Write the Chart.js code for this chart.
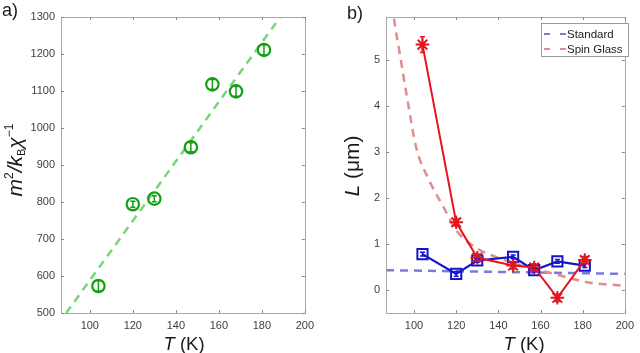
<!DOCTYPE html>
<html><head><meta charset="utf-8">
<script src="https://cdn.jsdelivr.net/npm/chart.js@4.4.1/dist/chart.umd.min.js"></script>
<style>html,body{margin:0;padding:0;background:#fff;width:640px;height:353px;overflow:hidden}
.p{position:absolute;top:0;width:320px;height:353px}</style></head>
<body>
<div class="p" style="left:0"><canvas id="ca" width="320" height="353"></canvas></div>
<div class="p" style="left:320px"><canvas id="cb" width="320" height="353"></canvas></div>
<script>
// ---- data ----
const temperatures = [104, 120, 130, 147, 157, 168, 181];
const invSusceptibility = [573, 794, 809, 948, 1118, 1099, 1211];
const invSusceptibilityErr = [14, 8, 8, 12, 13, 13, 13];
const linearFitT = [89, 200];
const linearFitValues = [500, 1392];

const lengthStandard = [0.78, 0.35, 0.64, 0.72, 0.43, 0.62, 0.53];
const lengthStandardErr = [0.04, 0.05, 0.04, 0.04, 0.04, 0.04, 0.04];
const lengthSpinGlass = [5.33, 1.47, 0.70, 0.53, 0.49, -0.17, 0.65];
const lengthSpinGlassErr = [0.17, 0.08, 0.08, 0.08, 0.08, 0.08, 0.08];
const standardFitT = [86.7, 200];
const standardFitValues = [0.43, 0.35];
const spinGlassFitT = [89.8, 90.4, 93, 97, 101, 107, 114, 120, 130, 142, 153, 164, 182, 200];
const spinGlassFitValues = [6.2, 5.93, 5.2, 4.1, 3.1, 2.4, 1.8, 1.3, 0.9, 0.67, 0.5, 0.38, 0.17, 0.09];

const xTicks = [100, 120, 140, 160, 180, 200];
const yTicksA = [500, 600, 700, 800, 900, 1000, 1100, 1200, 1300];
const yTicksB = [0, 1, 2, 3, 4, 5];

const seriesLabels = ['Standard', 'Spin Glass'];

// ---- helpers ----
const FONT = '"Liberation Sans", Arial, Helvetica, sans-serif';
const pts = (xs, ys) => xs.map((x, i) => ({x, y: ys[i]}));

function drawRich(ctx, pieces, cx, cy, rot) {
  ctx.save();
  ctx.translate(cx, cy);
  if (rot) ctx.rotate(rot);
  let total = 0;
  pieces.forEach(p => { ctx.font = (p.it ? 'italic ' : '') + p.size + 'px ' + FONT; p.w = ctx.measureText(p.t).width; total += p.w; });
  let x = -total / 2;
  ctx.textBaseline = 'alphabetic';
  ctx.textAlign = 'left';
  ctx.fillStyle = '#1a1a1a';
  pieces.forEach(p => { ctx.font = (p.it ? 'italic ' : '') + p.size + 'px ' + FONT; ctx.fillText(p.t, x, p.dy || 0); x += p.w; });
  ctx.restore();
}

const decor = {
  id: 'decor',
  afterDatasetsDraw(chart) {
    const o = chart.options.plugins.decor;
    const ctx = chart.ctx;
    const a = chart.chartArea;
    const xs = chart.scales.x, ys = chart.scales.y;
    (o.errors || []).forEach(e => {
      ctx.save();
      ctx.strokeStyle = e.color; ctx.lineWidth = 1.5;
      chart.data.datasets[e.ds].data.forEach((d, i) => {
        const px = xs.getPixelForValue(d.x);
        const y1 = ys.getPixelForValue(d.y - e.err[i]);
        const y2 = ys.getPixelForValue(d.y + e.err[i]);
        ctx.beginPath();
        ctx.moveTo(px, y1); ctx.lineTo(px, y2);
        ctx.moveTo(px - 2.5, y1); ctx.lineTo(px + 2.5, y1);
        ctx.moveTo(px - 2.5, y2); ctx.lineTo(px + 2.5, y2);
        ctx.stroke();
      });
      ctx.restore();
    });
    ctx.save();
    ctx.strokeStyle = '#a8a8a8'; ctx.lineWidth = 1;
    ctx.strokeRect(Math.round(a.left) + 0.5, Math.round(a.top) + 0.5, Math.round(a.right - a.left), Math.round(a.bottom - a.top));
    ctx.strokeStyle = '#8a8a8a';
    ctx.beginPath();
    o.xt.forEach(v => {
      const px = Math.round(xs.getPixelForValue(v)) + 0.5;
      ctx.moveTo(px, a.bottom); ctx.lineTo(px, a.bottom - 3);
      ctx.moveTo(px, a.top); ctx.lineTo(px, a.top + 3);
    });
    o.yt.forEach(v => {
      const py = Math.round(ys.getPixelForValue(v)) + 0.5;
      ctx.moveTo(a.left, py); ctx.lineTo(a.left + 3, py);
      ctx.moveTo(a.right, py); ctx.lineTo(a.right - 3, py);
    });
    ctx.stroke();
    ctx.restore();
  },
  afterDraw(chart) {
    const o = chart.options.plugins.decor;
    const ctx = chart.ctx;
    ctx.save();
    ctx.font = '18px ' + FONT; ctx.fillStyle = '#1a1a1a'; ctx.textBaseline = 'alphabetic';
    ctx.fillText(o.panel[0], o.panel[1], o.panel[2]);
    ctx.restore();
    drawRich(ctx, o.xTitle, o.xTitlePos[0], o.xTitlePos[1], 0);
    drawRich(ctx, o.yTitle, o.yTitlePos[0], o.yTitlePos[1], -Math.PI / 2);
    if (o.legend) {
      const L = o.legend;
      ctx.save();
      ctx.fillStyle = '#fff'; ctx.fillRect(L.x, L.y, L.w, L.h);
      ctx.strokeStyle = '#9a9a9a'; ctx.lineWidth = 1;
      ctx.strokeRect(L.x + 0.5, L.y + 0.5, L.w, L.h);
      L.items.forEach((it, i) => {
        const ds = chart.data.datasets[it];
        const yy = L.y + 11 + i * 15;
        ctx.strokeStyle = ds.borderColor; ctx.lineWidth = 2;
        ctx.setLineDash([6, 10]);
        ctx.beginPath(); ctx.moveTo(L.x + 3, yy); ctx.lineTo(L.x + 26, yy); ctx.stroke();
        ctx.setLineDash([]);
        ctx.fillStyle = '#1a1a1a'; ctx.font = '11.5px ' + FONT; ctx.textBaseline = 'middle';
        ctx.fillText(seriesLabels[i], L.x + 26, yy + 0.5);
      });
      ctx.restore();
    }
  }
};

function axisCfg(min, max, ticks, fixed, isY) {
  return {
    type: 'linear', min, max,
    grid: {display: false, drawTicks: false},
    border: {display: false},
    afterBuildTicks: s => { s.ticks = ticks.map(v => ({value: v})); },
    afterFit: s => { if (isY) s.width = fixed; else s.height = fixed; },
    ticks: {
      color: '#404040', padding: isY ? 6 : 6,
      font: {family: FONT, size: 11},
      autoSkip: false, maxRotation: 0,
      callback: v => String(v)
    }
  };
}

const green = '#12a012';
new Chart(document.getElementById('ca'), {
  type: 'scatter',
  data: {
    datasets: [
      {label: 'fit', data: pts(linearFitT, linearFitValues), showLine: true, borderColor: '#74d874', borderWidth: 2.5, borderDash: [8, 6], pointRadius: 0, order: 2},
      {label: 'data', data: pts(temperatures, invSusceptibility), showLine: false, pointStyle: 'circle', pointRadius: 6.2, borderColor: green, backgroundColor: 'rgba(0,0,0,0)', borderWidth: 2.2, order: 1}
    ]
  },
  options: {
    responsive: false, animation: false, events: [],
    layout: {padding: {left: 0, right: 13, top: 17, bottom: 0}},
    scales: {
      x: axisCfg(86.6, 200, xTicks, 40, false),
      y: axisCfg(500, 1300, yTicksA, 61, true)
    },
    plugins: {
      legend: {display: false}, tooltip: {enabled: false},
      decor: {
        xt: xTicks, yt: yTicksA,
        errors: [{ds: 1, err: invSusceptibilityErr, color: green}],
        panel: ['a)', 2, 16],
        xTitle: [{t: 'T', it: true, size: 18.5}, {t: ' (K)', size: 18.5}],
        xTitlePos: [184, 350],
        yTitle: [{t: 'm', it: true, size: 21}, {t: '2', size: 12, dy: -9}, {t: '/', it: true, size: 21}, {t: 'k', it: true, size: 21}, {t: 'B', size: 11, dy: 3}, {t: 'χ', it: true, size: 21}, {t: '−1', size: 12, dy: -9}],
        yTitlePos: [22, 160]
      }
    }
  },
  plugins: [decor]
});

const red = '#e6141e', blue = '#1414c8';
new Chart(document.getElementById('cb'), {
  type: 'scatter',
  data: {
    datasets: [
      {label: seriesLabels[0], data: pts(standardFitT, standardFitValues), showLine: true, borderColor: '#7a7ade', borderWidth: 2.5, borderDash: [8, 6], pointRadius: 0, order: 4},
      {label: seriesLabels[1], data: pts(spinGlassFitT, spinGlassFitValues), showLine: true, borderColor: '#e08c8c', borderWidth: 2.5, borderDash: [8, 6], pointRadius: 0, cubicInterpolationMode: 'monotone', order: 3},
      {label: 'Standard data', data: pts(temperatures, lengthStandard), showLine: true, borderColor: blue, borderWidth: 2.2, pointStyle: 'rect', pointRadius: 7.2, pointBorderWidth: 2, pointBorderColor: blue, pointBackgroundColor: 'rgba(0,0,0,0)', order: 2},
      {label: 'Spin glass data', data: pts(temperatures, lengthSpinGlass), showLine: true, borderColor: red, borderWidth: 2, pointStyle: 'star', pointRadius: 6.8, pointBorderWidth: 2, pointBorderColor: red, pointBackgroundColor: red, order: 1}
    ]
  },
  options: {
    responsive: false, animation: false, events: [],
    layout: {padding: {left: 0, right: 7, top: 17, bottom: 0}},
    scales: {
      x: axisCfg(86.7, 200, xTicks, 40, false),
      y: axisCfg(-0.5, 5.93, yTicksB, 66, true)
    },
    plugins: {
      legend: {display: false}, tooltip: {enabled: false},
      decor: {
        xt: xTicks, yt: yTicksB,
        errors: [{ds: 2, err: lengthStandardErr, color: blue}, {ds: 3, err: lengthSpinGlassErr, color: red}],
        panel: ['b)', 27, 19],
        xTitle: [{t: 'T', it: true, size: 18.5}, {t: ' (K)', size: 18.5}],
        xTitlePos: [204, 350],
        yTitle: [{t: 'L', it: true, size: 21}, {t: ' (μm)', size: 21}],
        yTitlePos: [39, 166],
        legend: {x: 221, y: 23, w: 87, h: 33, items: [0, 1]}
      }
    }
  },
  plugins: [decor]
});
</script>
</body></html>
